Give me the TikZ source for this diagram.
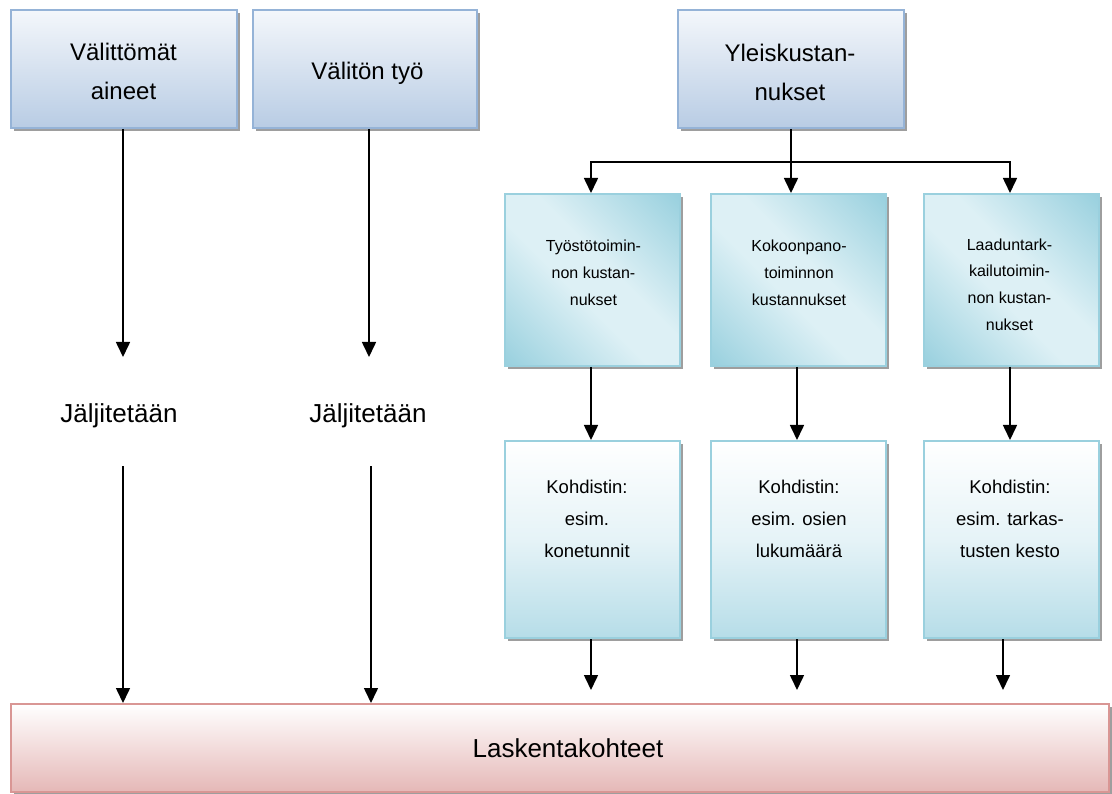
\documentclass[tikz,border=0pt]{standalone}
\usepackage{fontspec}
\setmainfont{Liberation Sans}
\usetikzlibrary{arrows.meta,shadows,calc}

\definecolor{hdrTop}{HTML}{F4F7FB}
\definecolor{hdrBot}{HTML}{B8CCE4}
\definecolor{hdrLine}{HTML}{95B3D7}
\definecolor{actDark}{HTML}{92CDDC}
\definecolor{actLight}{HTML}{DDF0F5}
\definecolor{actLine}{HTML}{9AD0DE}
\definecolor{drvBot}{HTML}{B6DDE8}
\definecolor{objBot}{HTML}{E5B8B7}
\definecolor{objLine}{HTML}{D99694}

% diagonal two-sided fade for the activity pools
\pgfdeclareverticalshading{poolshade}{100bp}{%
  color(0bp)=(actDark); color(12bp)=(actDark); color(44bp)=(actLight);
  color(56bp)=(actLight); color(88bp)=(actDark); color(100bp)=(actDark)}

\begin{document}
\begin{tikzpicture}[x=1pt,y=-1pt,
  boxbase/.style={rectangle, inner sep=0pt, anchor=north west, line width=2pt,
    drop shadow={shadow xshift=3pt, shadow yshift=-3pt, fill=black!38, opacity=1}},
  hdrbox/.style={boxbase, draw=hdrLine, top color=hdrTop, bottom color=hdrBot},
  actbox/.style={boxbase, draw=actLine, shading=poolshade, shading angle=-45},
  drvbox/.style={boxbase, draw=actLine, top color=white, bottom color=drvBot,
    middle color=drvBot!35},
  objbox/.style={boxbase, draw=objLine, top color=white, bottom color=objBot},
  hdrtxt/.style={anchor=base, align=center, inner sep=0pt, font=\fontsize{24}{39}\selectfont},
  acttxt/.style={anchor=base, align=center, inner sep=0pt, font=\fontsize{16}{27}\selectfont},
  drvtxt/.style={anchor=base, align=center, inner sep=0pt, font=\fontsize{18.5}{32}\selectfont},
  bigtxt/.style={anchor=base, inner sep=0pt, font=\fontsize{26}{30}\selectfont},
  arr/.style={line width=1.6pt, -{Triangle[length=15pt,width=14pt]}},
  ln/.style={line width=1.6pt}]
\useasboundingbox (0,0) rectangle (1112,794);

% cost types (text anchored at the baseline of the last line)
\node[hdrbox, minimum width=226pt, minimum height=118pt] (mat) at (10,9) {};
\node[hdrbox, minimum width=224pt, minimum height=118pt] (lab) at (252,9) {};
\node[hdrbox, minimum width=226pt, minimum height=118pt] (ovh) at (677,9) {};
\node[hdrtxt] (matT) at (123.5,100) {Välittömät\\aineet};
\node[hdrtxt] (labT) at (367.5,80) {Välitön työ};
\node[hdrtxt] (ovhT) at (790,101) {Yleiskustan-\\nukset};

% activity cost pools
\node[actbox, minimum width=175pt, minimum height=172pt] (act1) at (504,193) {};
\node[actbox, minimum width=175pt, minimum height=172pt] (act2) at (710,193) {};
\node[actbox, minimum width=175pt, minimum height=172pt] (act3) at (923,193) {};
\node[acttxt] (act1T) at (593.5,306) {Työstötoimin-\\non kustan-\\nukset};
\node[acttxt] (act2T) at (799,306) {Kokoonpano-\\toiminnon\\kustannukset};
\node[acttxt] (act3T) at (1009.5,331) {Laaduntark-\\kailutoimin-\\non kustan-\\nukset};

% cost drivers
\node[drvbox, minimum width=175pt, minimum height=197pt] (drv1) at (504,440) {};
\node[drvbox, minimum width=175pt, minimum height=197pt] (drv2) at (710,440) {};
\node[drvbox, minimum width=175pt, minimum height=197pt] (drv3) at (923,440) {};
\node[drvtxt] (drv1T) at (587,557) {Kohdistin:\\esim.\\konetunnit};
\node[drvtxt] (drv2T) at (799,557) {Kohdistin:\\esim. osien\\lukumäärä};
\node[drvtxt] (drv3T) at (1010,557) {Kohdistin:\\esim. tarkas-\\tusten kesto};

% cost objects
\node[objbox, minimum width=1098pt, minimum height=88pt] (obj) at (10,703) {};
\node[bigtxt] (objT) at (568,757) {Laskentakohteet};

% direct tracing
\node[bigtxt] (trace1) at (119,423) {Jäljitetään};
\node[bigtxt] (trace2) at (368,423) {Jäljitetään};

\coordinate (tip1) at (123,357);
\coordinate (tip2) at (369,357);
\coordinate (from1) at (123,466);
\coordinate (from2) at (371,466);
\coordinate (split) at (791,162);
\coordinate (dropY) at (0,690);

\draw[arr] (mat.south -| tip1) -- (tip1);
\draw[arr] (lab.south -| tip2) -- (tip2);
\draw[arr] (from1) -- (from1 |- obj.north);
\draw[arr] (from2) -- (from2 |- obj.north);

% overhead split
\draw[ln] (ovh.south -| split) -- (split);
\draw[arr] (split) -| (act1.north -| 591,0);
\draw[arr] (split) -- (split |- act2.north);
\draw[arr] (split) -| (act3.north -| 1010,0);

% pools to drivers
\draw[arr] (act1.south -| 591,0) -- (drv1.north -| 591,0);
\draw[arr] (act2.south -| 797,0) -- (drv2.north -| 797,0);
\draw[arr] (act3.south -| 1010,0) -- (drv3.north -| 1010,0);

% drivers to cost objects
\draw[arr] (drv1.south -| 591,0) -- (dropY -| 591,0);
\draw[arr] (drv2.south -| 797,0) -- (dropY -| 797,0);
\draw[arr] (drv3.south -| 1003,0) -- (dropY -| 1003,0);
\end{tikzpicture}
\end{document}
